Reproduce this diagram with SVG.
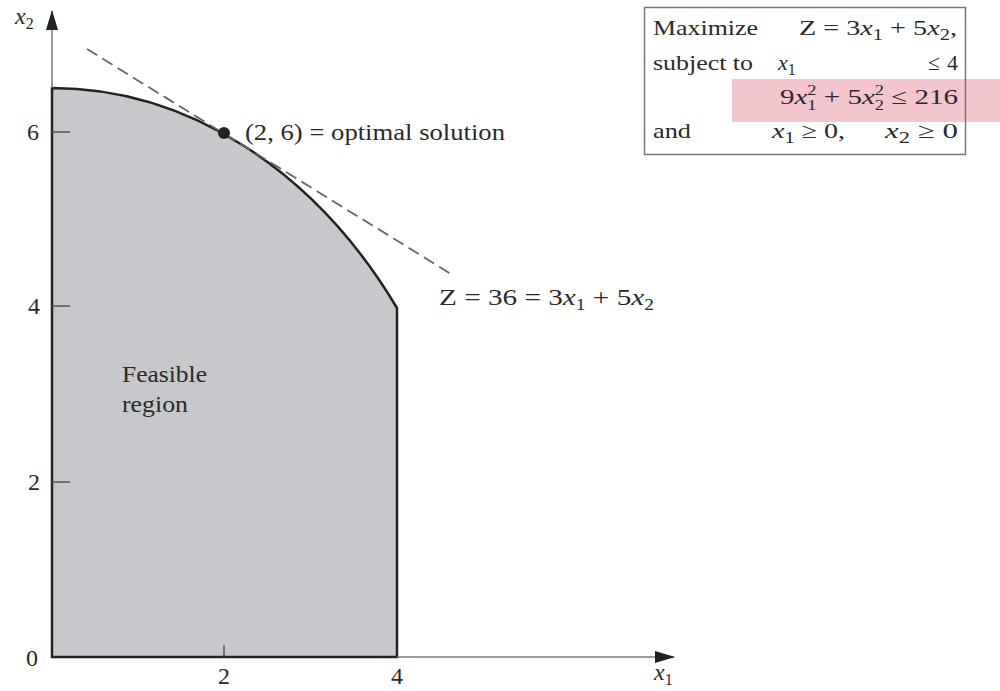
<svg xmlns="http://www.w3.org/2000/svg" width="1000" height="691" viewBox="0 0 1000 691">
<style>
text{font-family:"Liberation Serif","Times New Roman",serif;fill:#2a2a2a;font-size:24px}
.b{font-size:22px}
.i{font-style:italic}
.s{font-size:16px}
.t{font-size:14px}
.axis{stroke:#777;stroke-width:1.5;fill:none}
.tick{stroke:#555;stroke-width:1.5}
</style>
<defs>
<marker id="arr" viewBox="0 0 20 12" refX="19" refY="6" markerWidth="20" markerHeight="12" markerUnits="userSpaceOnUse" orient="auto">
<path d="M0,0 L20,6 L0,12 Z" fill="#222"/>
</marker>
</defs>
<rect width="1000" height="691" fill="#fff"/>
<g id="region">
<path d="M52,88 A436.8,569 0 0,1 397,308 L397,657 L52,657 Z" fill="#c6c8cb" stroke="#222" stroke-width="2.5"/>
</g>
<g id="axes">
<line class="axis" x1="397" y1="657" x2="674" y2="657" marker-end="url(#arr)"/>
<line class="axis" x1="52" y1="88" x2="52" y2="11" marker-end="url(#arr)"/>
<line class="tick" x1="52" y1="132" x2="70" y2="132"/>
<line class="tick" x1="52" y1="306" x2="70" y2="306"/>
<line class="tick" x1="52" y1="482" x2="70" y2="482"/>
<line class="tick" x1="224" y1="657" x2="224" y2="645"/>
<text x="33" y="140" text-anchor="middle">6</text>
<text x="34" y="314" text-anchor="middle">4</text>
<text x="34" y="490" text-anchor="middle">2</text>
<text x="32" y="666" text-anchor="middle">0</text>
<text x="224" y="684" text-anchor="middle">2</text>
<text x="397" y="684" text-anchor="middle">4</text>
<text x="654" y="680" class="i">x<tspan class="s" dy="5" font-style="normal">1</tspan></text>
<text x="15" y="24" class="i">x<tspan class="s" dy="5" font-style="normal">2</tspan></text>
</g>
<g id="connectors">
<line id="objective" x1="87" y1="49" x2="451" y2="274" stroke="#666" stroke-width="1.8" stroke-dasharray="12,6"/>
</g>
<g id="optimal">
<circle cx="224" cy="133" r="6" fill="#222"/>
<text x="245" y="140" textLength="260" lengthAdjust="spacingAndGlyphs">(2, 6) = optimal solution</text>
</g>
<g id="zlabel">
<text x="439" y="305" textLength="215" lengthAdjust="spacingAndGlyphs">Z = 36 = 3<tspan class="i">x</tspan><tspan class="s" dy="5">1</tspan><tspan dy="-5"> + 5</tspan><tspan class="i">x</tspan><tspan class="s" dy="5">2</tspan></text>
</g>
<g id="feasible">
<text x="122" y="382" font-size="25" textLength="85" lengthAdjust="spacingAndGlyphs">Feasible</text>
<text x="122" y="412" font-size="25" textLength="66" lengthAdjust="spacingAndGlyphs">region</text>
</g>
<g id="problem">
<rect x="732" y="79" width="268" height="43" fill="#f3c6cd"/>
<rect x="644.5" y="7.5" width="321" height="147" fill="none" stroke="#777" stroke-width="1.5"/>
<text class="b" x="653" y="35" textLength="105" lengthAdjust="spacingAndGlyphs">Maximize</text>
<text class="b" x="799" y="35" textLength="158" lengthAdjust="spacingAndGlyphs">Z = 3<tspan class="i">x</tspan><tspan class="s" dy="5">1</tspan><tspan dy="-5"> + 5</tspan><tspan class="i">x</tspan><tspan class="s" dy="5">2</tspan><tspan dy="-5">,</tspan></text>
<text class="b" x="653" y="70" textLength="100" lengthAdjust="spacingAndGlyphs">subject to</text>
<text class="b i" x="778" y="70">x<tspan class="s" dy="5" font-style="normal">1</tspan></text>
<text class="b" x="934" y="70" text-anchor="middle">≤</text>
<text class="b" x="958" y="70" text-anchor="end">4</text>
<text class="b" x="780" y="104" textLength="178" lengthAdjust="spacingAndGlyphs">9<tspan class="i">x</tspan><tspan class="t" dy="6">1</tspan><tspan class="t" dx="-7" dy="-15">2</tspan><tspan dy="9"> + 5</tspan><tspan class="i">x</tspan><tspan class="t" dy="6">2</tspan><tspan class="t" dx="-7" dy="-15">2</tspan><tspan dy="9"> ≤ 216</tspan></text>
<text class="b" x="653" y="138" textLength="38" lengthAdjust="spacingAndGlyphs">and</text>
<text class="b" x="772" y="138" textLength="73" lengthAdjust="spacingAndGlyphs"><tspan class="i">x</tspan><tspan class="s" dy="5">1</tspan><tspan dy="-5"> ≥ 0,</tspan></text>
<text class="b" x="885" y="138" textLength="73" lengthAdjust="spacingAndGlyphs"><tspan class="i">x</tspan><tspan class="s" dy="5">2</tspan><tspan dy="-5"> ≥ 0</tspan></text>
</g>
</svg>
